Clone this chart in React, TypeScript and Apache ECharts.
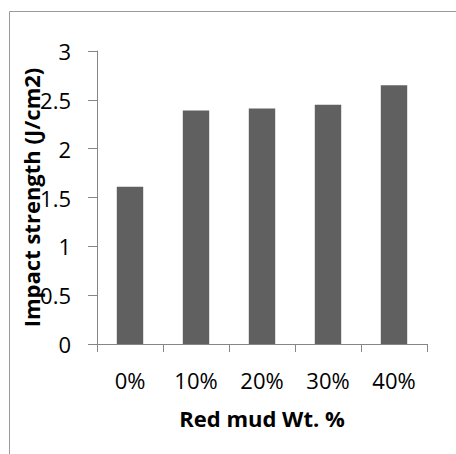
import React, { useEffect, useRef } from "react";
import * as echarts from "echarts";

const categories = ["0%", "10%", "20%", "30%", "40%"];
const impactStrength = [1.61, 2.39, 2.41, 2.45, 2.65];
const yTitle = "Impact strength (J/cm2)";
const xTitle = "Red mud Wt. %";

const FONT = "Open Sans";
const AXIS = "#868686";

export default function App() {
  const ref = useRef<HTMLDivElement>(null);
  useEffect(() => {
    if (!ref.current) return;
    const chart = echarts.init(ref.current, undefined, { renderer: "svg" });
    chart.setOption({
      animation: false,
      backgroundColor: "#ffffff",
      graphic: [
        {
          type: "rect",
          shape: { x: 9.5, y: 11.5, width: 460, height: 460 },
          style: { fill: "none", stroke: "#9a9a9a", lineWidth: 1 },
          silent: true,
        },
      ],
      grid: { left: 97, right: 29, top: 51, bottom: 110, containLabel: false },
      xAxis: {
        type: "category",
        data: categories,
        name: xTitle,
        nameLocation: "middle",
        nameGap: 63,
        nameMoveOverlap: false,
        nameTextStyle: { fontFamily: FONT, fontSize: 22, fontWeight: "bold", color: "#000" },
        axisLine: { show: true, lineStyle: { color: AXIS, width: 1 } },
        axisTick: { show: true, alignWithLabel: false, length: 8, lineStyle: { color: AXIS } },
        axisLabel: { fontFamily: FONT, fontSize: 22, color: "#000", margin: 25 },
        splitLine: { show: false },
      },
      yAxis: {
        type: "value",
        min: 0,
        max: 3,
        interval: 0.5,
        name: yTitle,
        nameLocation: "middle",
        nameGap: 55,
        nameRotate: 90,
        nameMoveOverlap: false,
        nameTextStyle: { fontFamily: FONT, fontSize: 22, fontWeight: "bold", color: "#000" },
        axisLine: { show: true, lineStyle: { color: AXIS, width: 1 } },
        axisTick: { show: true, length: 9, lineStyle: { color: AXIS } },
        splitLine: { show: false },
        axisLabel: {
          fontFamily: FONT,
          fontSize: 22,
          color: "#000",
          margin: 26,
        },
      },
      series: [
        {
          type: "bar",
          data: impactStrength,
          barWidth: "40%",
          itemStyle: { color: "#606060" },
        },
      ],
    });
    return () => chart.dispose();
  }, []);
  return (
    <div
      ref={ref}
      style={{ position: "fixed", left: 0, top: 0, width: 456, height: 454 }}
    />
  );
}
